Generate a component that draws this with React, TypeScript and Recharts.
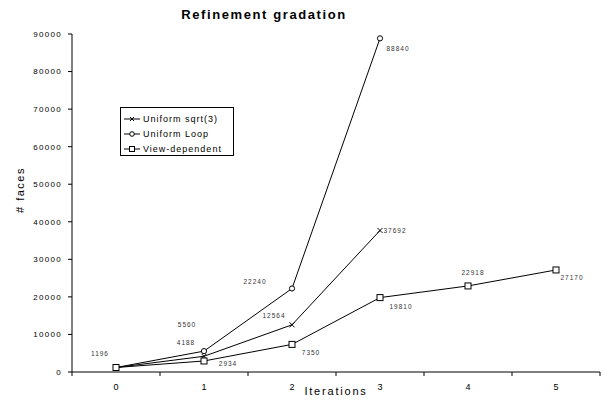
import React from 'react';
import { LineChart, Line, XAxis, YAxis, Legend, LabelList } from 'recharts';

const iterations = [0, 1, 2, 3, 4, 5];
const uniformSqrt3 = [1196, 4188, 12564, 37692];
const uniformLoop = [1196, 5560, 22240, 88840];
const viewDependent = [1196, 2934, 7350, 19810, 22918, 27170];
const yTicks = [0, 10000, 20000, 30000, 40000, 50000, 60000, 70000, 80000, 90000];
const xTicks = [-0.5, 0, 0.5, 1, 1.5, 2, 2.5, 3, 3.5, 4, 4.5, 5, 5.5];
const seriesNames = ['Uniform sqrt(3)', 'Uniform Loop', 'View-dependent'];

const data = iterations.map((x, i) => ({
  x,
  sqrt: i < uniformSqrt3.length ? uniformSqrt3[i] : null,
  loop: i < uniformLoop.length ? uniformLoop[i] : null,
  view: i < viewDependent.length ? viewDependent[i] : null,
}));

// label placement (styling only)
const LABEL_OFFSETS: Record<string, (number[] | null)[]> = {
  sqrt: [[-16, -14], [-18, -14], [-18, -9], [15, 0]],
  loop: [null, [-17, -27], [-37, -7], [18, 10]],
  view: [null, [24, 3], [19, 8], [21, 9], [5, -13], [16, 8]],
};

const FONT = '"Liberation Sans", Arial, sans-serif';

const makeLabel = (key: string) => (props: any) => {
  const { x, y, value, index } = props;
  const off = LABEL_OFFSETS[key][index];
  if (!off || value == null) return null;
  return (
    <text
      x={x + off[0]}
      y={y + off[1]}
      textAnchor="middle"
      dominantBaseline="central"
      fontSize={6.5}
      letterSpacing={1}
      fill="#333"
      fontFamily={FONT}
    >
      {value}
    </text>
  );
};

const CrossDot = (props: any) => {
  const { cx, cy, index } = props;
  if (cx == null || cy == null) return <g key={index} />;
  const s = 2.5;
  return (
    <g key={index}>
      <line x1={cx - s} y1={cy - s} x2={cx + s} y2={cy + s} stroke="#000" strokeWidth={1} />
      <line x1={cx - s} y1={cy + s} x2={cx + s} y2={cy - s} stroke="#000" strokeWidth={1} />
    </g>
  );
};

const CircleDot = (props: any) => {
  const { cx, cy, index } = props;
  if (cx == null || cy == null) return <g key={index} />;
  return <circle key={index} cx={cx} cy={cy} r={2.6} fill="#fff" stroke="#000" strokeWidth={1} />;
};

const SquareDot = (props: any) => {
  const { cx, cy, index } = props;
  if (cx == null || cy == null) return <g key={index} />;
  return <rect key={index} x={cx - 3} y={cy - 3} width={6} height={6} fill="#fff" stroke="#000" strokeWidth={1} />;
};

const XTick = (props: any) => {
  const { x, y, payload } = props;
  const v = payload.value;
  if (Math.abs(v - Math.round(v)) > 0.01) {
    return <line x1={x} y1={y} x2={x} y2={y + 4} stroke="#000" strokeWidth={1} />;
  }
  return (
    <text x={x} y={y + 18} textAnchor="middle" fontSize={9} fill="#000" fontFamily={FONT}>
      {v}
    </text>
  );
};

const LegendMarker = ({ kind }: { kind: number }) => (
  <svg width={16} height={8} style={{ display: 'block', marginRight: 3 }}>
    <line x1={0} y1={4} x2={16} y2={4} stroke="#000" strokeWidth={1} />
    {kind === 0 && (
      <g>
        <line x1={6} y1={2} x2={10} y2={6} stroke="#000" />
        <line x1={6} y1={6} x2={10} y2={2} stroke="#000" />
      </g>
    )}
    {kind === 1 && <circle cx={8} cy={4} r={2.3} fill="#fff" stroke="#000" />}
    {kind === 2 && <rect x={5.5} y={1.5} width={5} height={5} fill="#fff" stroke="#000" />}
  </svg>
);

const renderLegend = () => (
  <div
    style={{
      border: '1px solid #000',
      background: '#fff',
      boxSizing: 'border-box',
      width: 114,
      height: 49,
      padding: '3px 0 0 3px',
      fontFamily: FONT,
      fontSize: 9,
      letterSpacing: 1,
      color: '#000',
    }}
  >
    {seriesNames.map((n, i) => (
      <div key={n} style={{ display: 'flex', alignItems: 'center', height: 15 }}>
        <LegendMarker kind={i} />
        <span>{n}</span>
      </div>
    ))}
  </div>
);

export default function App() {
  return (
    <div style={{ position: 'absolute', left: 0, top: 0, width: 602, height: 400, background: '#fff' }}>
      <div
        style={{
          position: 'absolute',
          left: 0,
          top: 7,
          width: 528,
          textAlign: 'center',
          fontFamily: FONT,
          fontWeight: 'bold',
          fontSize: 13,
          lineHeight: '15px',
          letterSpacing: 1.6,
          color: '#000',
        }}
      >
        Refinement gradation
      </div>
      <LineChart width={602} height={400} data={data} margin={{ top: 34, right: 2, left: 8, bottom: 8 }}>
        <XAxis
          dataKey="x"
          type="number"
          domain={[-0.5, 5.5]}
          ticks={xTicks}
          interval={0}
          tick={<XTick />}
          tickLine={false}
          tickSize={0}
          tickMargin={0}
          height={20}
          axisLine={{ stroke: '#000', strokeWidth: 1 }}
          label={{
            content: () => (
              <text x={336} y={395} textAnchor="middle" fontSize={11} letterSpacing={1.8} fill="#000" fontFamily={FONT}>
                Iterations
              </text>
            ),
          }}
        />
        <XAxis
          xAxisId="top"
          orientation="top"
          dataKey="x"
          type="number"
          domain={[-0.5, 5.5]}
          height={0}
          tick={false}
          tickLine={false}
          axisLine={{ stroke: '#999', strokeWidth: 1 }}
        />
        <YAxis
          type="number"
          domain={[0, 90000]}
          ticks={yTicks}
          interval={0}
          width={64}
          tickSize={4}
          tickMargin={6}
          tick={{ fontSize: 8, fill: '#000', fontFamily: FONT, letterSpacing: 1.3 }}
          tickLine={{ stroke: '#000' }}
          axisLine={{ stroke: '#000', strokeWidth: 1 }}
          label={{
            content: () => (
              <text
                x={24}
                y={190}
                transform="rotate(-90 24 190)"
                textAnchor="middle"
                fontSize={11}
                letterSpacing={1.5}
                fill="#000"
                fontFamily={FONT}
              >
                # faces
              </text>
            ),
          }}
        />
        <YAxis
          yAxisId="r"
          orientation="right"
          type="number"
          domain={[0, 90000]}
          width={0}
          tick={false}
          tickLine={false}
          axisLine={{ stroke: '#999', strokeWidth: 1 }}
        />
        <Legend
          layout="horizontal"
          verticalAlign="middle"
          align="center"
          content={renderLegend}
          wrapperStyle={{ left: 120, top: 107, width: 114, height: 49 }}
        />
        <Line dataKey="sqrt" name={seriesNames[0]} stroke="#000" strokeWidth={1} dot={<CrossDot />} isAnimationActive={false}>
          <LabelList dataKey="sqrt" content={makeLabel('sqrt')} />
        </Line>
        <Line dataKey="loop" name={seriesNames[1]} stroke="#000" strokeWidth={1} dot={<CircleDot />} isAnimationActive={false}>
          <LabelList dataKey="loop" content={makeLabel('loop')} />
        </Line>
        <Line dataKey="view" name={seriesNames[2]} stroke="#000" strokeWidth={1} dot={<SquareDot />} isAnimationActive={false}>
          <LabelList dataKey="view" content={makeLabel('view')} />
        </Line>
      </LineChart>
    </div>
  );
}
